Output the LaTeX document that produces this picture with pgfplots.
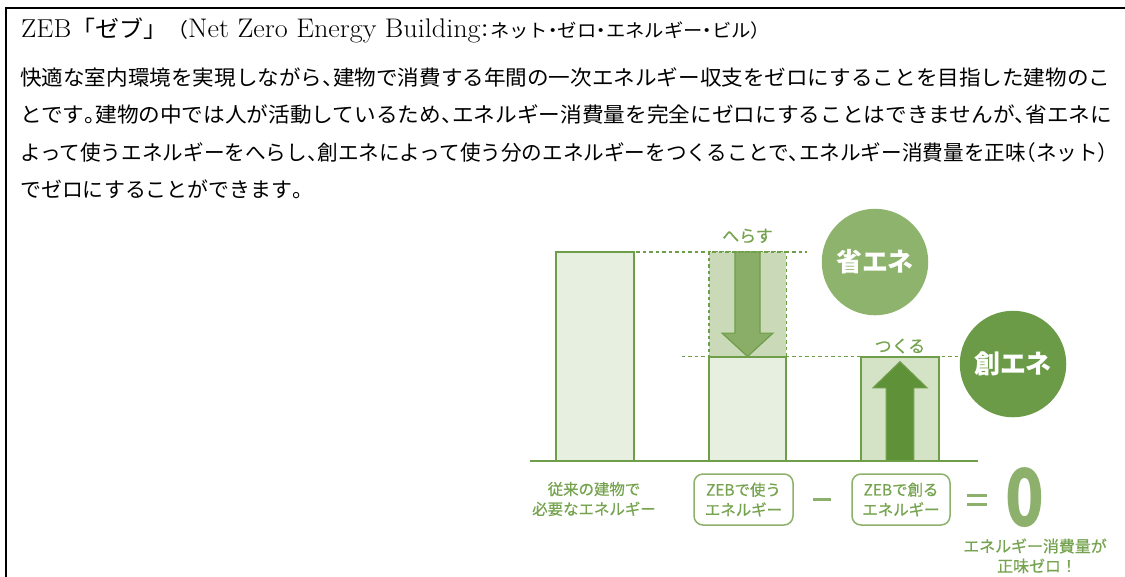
\documentclass[border=0pt]{standalone}
\usepackage{fontspec}
\usepackage{graphicx}
\usepackage{pgfplots}
\usepackage{pgfplotstable}
\pgfplotsset{compat=1.18}

\newfontfamily\cjk{Noto Sans CJK JP}
\newfontfamily\cjkm{Noto Sans CJK JP}[FakeBold=0.6]
% half-width punctuation, as in the reference
\newcommand\ten{\makebox[0.5em][l]{、}}
\newcommand\maru{\makebox[0.5em][l]{。}}
\newcommand\lp{\makebox[0.5em][r]{（}}
\newcommand\rp{\makebox[0.5em][l]{）}}
\newcommand\nak{\makebox[0.5em][c]{・}}

\definecolor{gline}{HTML}{6E9E48}
\definecolor{gtext}{HTML}{76A34F}
\definecolor{glight}{HTML}{8DB06C}
\definecolor{barfill}{HTML}{E7EFE0}
\definecolor{cutfill}{HTML}{CADAB9}
\definecolor{madefill}{HTML}{D4E3C6}
\definecolor{arrdown}{HTML}{8AAE68}
\definecolor{arrup}{HTML}{5F9238}
\definecolor{circA}{HTML}{8DB36C}
\definecolor{circB}{HTML}{6B9B47}

% energy of a conventional building = 100
\pgfplotstableread{
x h
0 100
1 50
}\usebars
% part saved by 省エネ
\pgfplotstableread{
x h
1 100
}\cutbar
% part made by 創エネ
\pgfplotstableread{
x h
2 50
}\madebar

\begin{document}
\begin{tikzpicture}
\begin{scope}[x=1bp,y=-1bp]
\path[use as bounding box] (0,0) rectangle (1125,572);
\draw[line width=2.6bp] (6,580) -- (6,8) -- (1130,8);

\node[anchor=base west, inner sep=0] at (21,37) {\resizebox{749bp}{\height}{%
{\fontsize{26}{28}\selectfont ZEB}{\cjk\fontsize{23}{28}\selectfont 「ゼブ」}{\cjk\fontsize{20}{24}\selectfont （}{\fontsize{27}{28}\selectfont Net Zero Energy Building}{\cjk\fontsize{18.5}{24}\selectfont \makebox[0.5em][c]{：}ネット\nak ゼロ\nak エネルギー\nak ビル）}}};

\node[anchor=base west, inner sep=0] at (20,85) {\cjk\fontsize{21}{24}\selectfont\resizebox{1090bp}{\height}{快適な室内環境を実現しながら\ten 建物で消費する年間の一次エネルギー収支をゼロにすることを目指した建物のこ}};
\node[anchor=base west, inner sep=0] at (20,122.5) {\cjk\fontsize{21}{24}\selectfont\resizebox{1092bp}{\height}{とです\maru 建物の中では人が活動しているため\ten エネルギー消費量を完全にゼロにすることはできませんが\ten 省エネに}};
\node[anchor=base west, inner sep=0] at (20,160) {\cjk\fontsize{21}{24}\selectfont\resizebox{1088bp}{\height}{よって使うエネルギーをへらし\ten 創エネによって使う分のエネルギーをつくることで\ten エネルギー消費量を正味\lp ネット\rp}};
\node[anchor=base west, inner sep=0] at (20,197.5) {\cjk\fontsize{21}{24}\selectfont でゼロにすることができます\maru};
\end{scope}

\begin{axis}[
  at={(595bp,-461bp)}, anchor=origin,
  x=152.5bp, y=2.09bp,
  xmin=-0.426, xmax=2.51, ymin=0, ymax=110,
  hide axis, clip=false,
]
% guide lines
\addplot[gline, line width=1.8bp, dash pattern=on 3.5bp off 3bp] coordinates {(0.27,100) (1.39,100)};
\addplot[gline, line width=1.8bp, dash pattern=on 3.5bp off 3bp] coordinates {(0.57,50) (2.39,50)};
% bars
\addplot[ybar, bar width=0.51, bar shift=0pt, fill=cutfill, draw=gline, line width=1.8bp, dash pattern=on 3.5bp off 3bp] table[x=x,y=h] {\cutbar};
\addplot[ybar, bar width=0.51, bar shift=0pt, fill=barfill, draw=gline, line width=2bp] table[x=x,y=h] {\usebars};
\addplot[ybar, bar width=0.51, bar shift=0pt, fill=madefill, draw=gline, line width=2bp] table[x=x,y=h] {\madebar};
% arrows
\addplot[fill=arrdown, draw=gline, line width=1.2bp] coordinates {(0.918,100) (1.082,100) (1.082,61.2) (1.167,61.2) (1,50) (0.833,61.2) (0.918,61.2)} -- cycle;
\addplot[fill=arrup, draw=gline, line width=1.2bp] coordinates {(1.91,0) (2.09,0) (2.09,35) (2.177,35) (2,47.5) (1.823,35) (1.91,35)} -- cycle;
% baseline
\addplot[gline, line width=2bp] coordinates {(-0.426,0) (2.51,0)};

\node[text=gtext, font=\cjkm\fontsize{17}{20}\selectfont] at (axis cs:1,107.7) {へらす};
\node[text=gtext, font=\cjkm\fontsize{17}{20}\selectfont] at (axis cs:2,55) {つくる};
\node[circle, fill=circA, minimum size=106.5bp, inner sep=0, text=white, font=\cjk\bfseries\fontsize{26}{30}\selectfont] at (axis cs:1.836,95.2) {省エネ};
\node[circle, fill=circB, minimum size=106.5bp, inner sep=0, text=white, font=\cjk\bfseries\fontsize{26}{30}\selectfont] at (axis cs:2.741,46.4) {創エネ};
\end{axis}

\begin{scope}[x=1bp,y=-1bp]
\node[align=center, text=gtext, font=\cjkm\fontsize{15.5}{20}\selectfont] at (594,499) {従来の建物で\\必要なエネルギー};
\draw[glight, line width=1.5bp, rounded corners=9bp] (694,474) rectangle (793,525);
\node[align=center, text=gtext, font=\cjkm\fontsize{15.5}{20}\selectfont] at (743.5,499.5) {ZEBで使う\\エネルギー};
\draw[glight, line width=1.5bp, rounded corners=9bp] (852,474) rectangle (950,525);
\node[align=center, text=gtext, font=\cjkm\fontsize{15.5}{20}\selectfont] at (901,499.5) {ZEBで創る\\エネルギー};
\draw[glight, line width=3bp] (813,499) -- (831,499);
\draw[glight, line width=3bp] (967,495) -- (987,495) (967,504) -- (987,504);
\node[text=glight, inner sep=0, font=\cjk\bfseries\fontsize{80}{80}\selectfont] at (1025,498) {\scalebox{0.8}[1]{0}};
\node[text=gtext, font=\cjkm\fontsize{16}{20}\selectfont] at (1035,546) {エネルギー消費量が};
\node[text=gtext, font=\cjkm\fontsize{16}{20}\selectfont] at (1037,566) {正味ゼロ！};
\end{scope}
\end{tikzpicture}
\end{document}
